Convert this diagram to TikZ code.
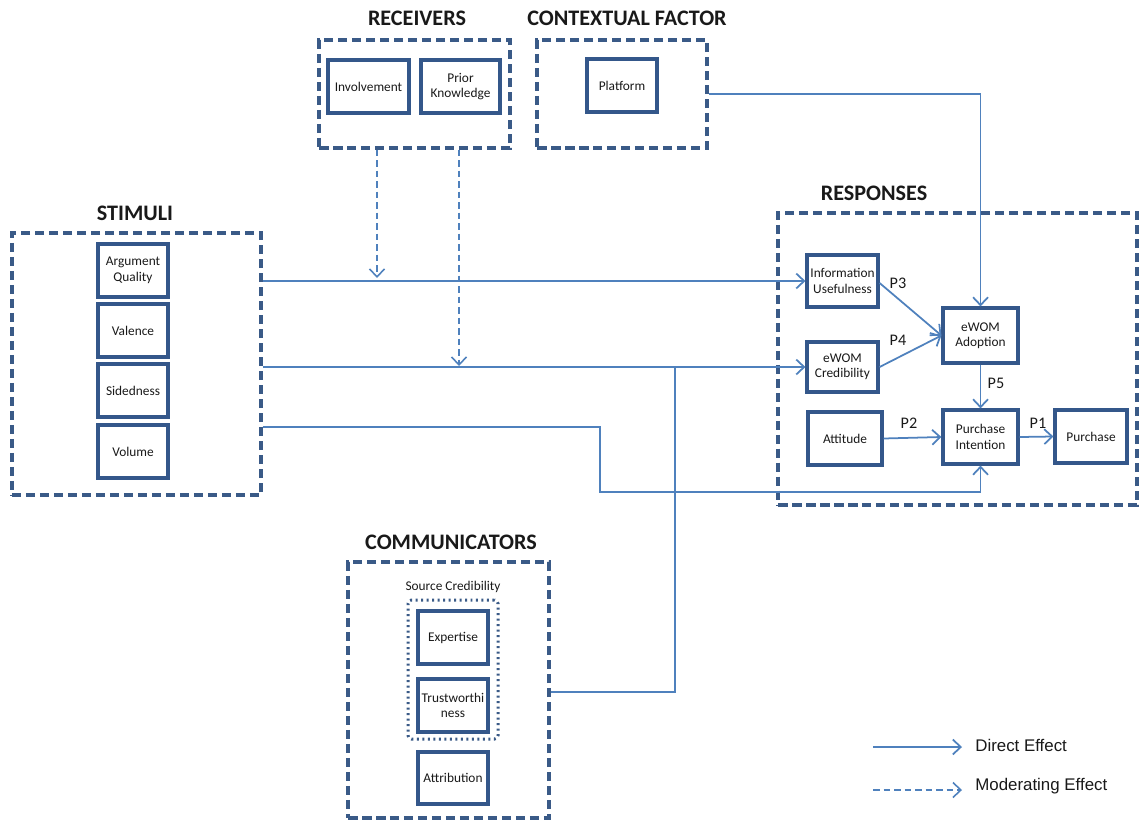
\documentclass[tikz,border=0pt]{standalone}
\usepackage{fontspec}
\setmainfont{Carlito}
\newfontfamily\legendfont{Liberation Sans}
\usetikzlibrary{arrows.meta}
\definecolor{boxc}{RGB}{52,87,138}
\definecolor{dashc}{RGB}{58,90,135}
\definecolor{arrc}{RGB}{79,129,189}
\definecolor{txtc}{RGB}{25,25,25}
\tikzset{
  every node/.style={text=txtc},
  stepbox/.style={draw=boxc, line width=1.8pt, fill=white, align=center,
    font=\fontsize{7.6}{8.8}\selectfont, inner sep=1pt},
  groupbox/.style={draw=dashc, line width=1.8pt, dash pattern=on 0.19cm off 0.09cm},
  dotbox/.style={draw=dashc, line width=1.7pt, dash pattern=on 0.04cm off 0.07cm, rounded corners=2pt},
  grouptitle/.style={font=\bfseries\fontsize{12.6}{14}\selectfont},
  plabel/.style={font=\fontsize{9.2}{10}\selectfont},
  direct/.style={draw=arrc, line width=1pt, -{Straight Barb[length=4.5pt,width=8.5pt]}},
  plainline/.style={draw=arrc, line width=1pt},
  moderating/.style={draw=arrc, line width=0.9pt, dash pattern=on 0.13cm off 0.08cm,
    -{Straight Barb[length=4.5pt,width=8.5pt]}},
}
% box from (x1,y1) to (x2,y2) in pixel units
\newcommand\pbox[7][stepbox]{%
  \node[#1, minimum width={(#5-#3)*0.02cm}, minimum height={(#6-#4)*0.02cm}]
    (#2) at ({(#3+#5)/2},{(#4+#6)/2}) {#7};}
\begin{document}
\begin{tikzpicture}[x=0.02cm, y=-0.02cm]
\useasboundingbox (0,0) rectangle (1141,821);

% group frames
\pbox[groupbox]{recv}{319}{40}{510}{148}{}
\pbox[groupbox]{ctx}{537}{40}{707}{148}{}
\pbox[groupbox]{stim}{12}{233}{261}{495}{}
\pbox[groupbox]{resp}{778}{213}{1137}{505}{}
\pbox[groupbox]{comm}{348}{562}{549}{818}{}
\pbox[dotbox]{srccred}{408}{600}{498}{739}{}

% group titles
\node[grouptitle] (trecv) at (417,18) {RECEIVERS};
\node[grouptitle] (tctx) at (627,18) {CONTEXTUAL FACTOR};
\node[grouptitle] (tstim) at (135,213) {STIMULI};
\node[grouptitle] (tresp) at (874,193) {RESPONSES};
\node[grouptitle] (tcomm) at (451,542) {COMMUNICATORS};
\node[font=\fontsize{7.6}{8.8}\selectfont] (tsrc) at (453,587) {Source Credibility};

% receivers and context
\pbox{inv}{328}{60}{409}{113}{Involvement}
\pbox{prior}{421}{60}{500}{113}{Prior\\Knowledge}
\pbox{plat}{587}{59}{657}{112}{Platform}

% stimuli
\pbox{argq}{98}{244}{168}{297}{Argument\\Quality}
\pbox{val}{98}{304}{168}{357}{Valence}
\pbox{side}{98}{364}{168}{417}{Sidedness}
\pbox{vol}{98}{425}{168}{478}{Volume}

% communicators
\pbox{expert}{418}{611}{488}{664}{Expertise}
\pbox{trust}{418}{679}{488}{732}{Trustworthi\\ness}
\pbox{attr}{418}{752}{488}{804}{Attribution}

% responses
\pbox{info}{807}{255}{878}{307}{Information\\Usefulness}
\pbox{cred}{807}{342}{878}{392}{eWOM\\Credibility}
\pbox{att}{808}{412}{882}{465}{Attitude}
\pbox{adopt}{943}{308}{1018}{363}{eWOM\\Adoption}
\pbox{pi}{943}{410}{1018}{464}{Purchase\\Intention}
\pbox{pur}{1055}{410}{1127}{463}{Purchase}

% junction points of the routed connectors
\coordinate (j1) at (600,427);
\coordinate (j2) at (600,492);
\coordinate (j3) at (675,692);
\coordinate (m1) at (377,278);
\coordinate (m2) at (459,366);

% direct effects
\draw[direct] (ctx.east) -| (adopt.north);
\draw[direct] (stim.east |- info.west) -- (info.west);
\draw[direct] (stim.east |- cred.west) -- (cred.west);
\draw[direct] (stim.east |- j1) -- (j1) -- (j2) -| (pi.south);
\draw[plainline] (comm.east |- j3) -- (j3) -- (j3 |- cred.west);
\draw[direct] (info.east) ++(0,2) -- (adopt.west);
\draw[direct] (cred.east) -- (adopt.west);
\draw[direct] (adopt.south) -- (pi.north);
\draw[direct] (att.east) -- (pi.west);
\draw[direct] (pi.east) -- (pur.west);

% moderating effects
\draw[moderating] (recv.south -| m1) -- (m1);
\draw[moderating] (recv.south -| m2) -- (m2);

% path labels
\node[plabel] (p3) at (898,283) {P3};
\node[plabel] (p4) at (898,340) {P4};
\node[plabel] (p5) at (996,383) {P5};
\node[plabel] (p2) at (909,423) {P2};
\node[plabel] (p1) at (1038,423) {P1};

% legend
\coordinate (l1) at (873,747);
\coordinate (l2) at (962,747);
\coordinate (l3) at (873,790);
\coordinate (l4) at (962,790);
\draw[direct] (l1) -- (l2);
\draw[moderating] (l3) -- (l4);
\node[anchor=west, font=\legendfont\fontsize{9.6}{11}\selectfont, inner sep=0] (ldir) at (975,745) {Direct Effect};
\node[anchor=west, font=\legendfont\fontsize{9.6}{11}\selectfont, inner sep=0] (lmod) at (975,786) {Moderating Effect};
\end{tikzpicture}
\end{document}
